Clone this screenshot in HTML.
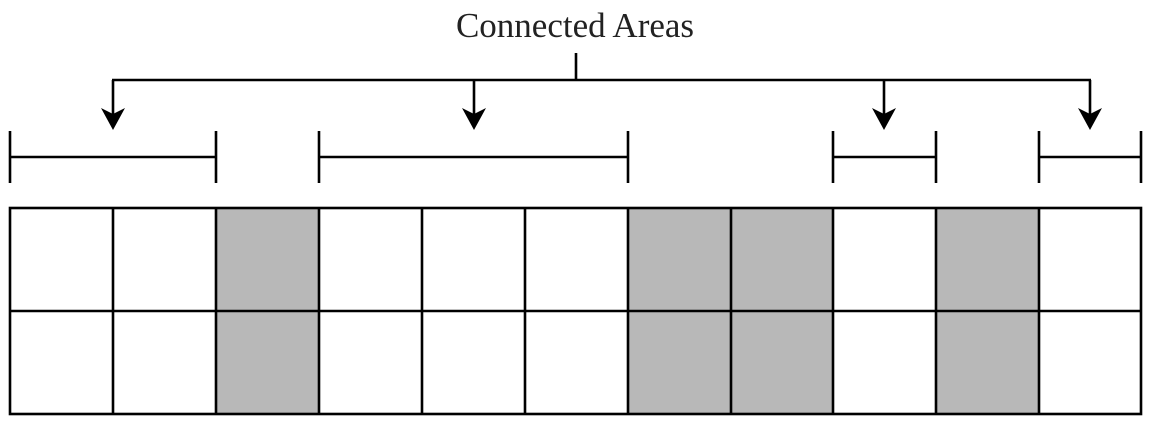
<!DOCTYPE html>
<html><head><meta charset="utf-8"><style>
html,body{margin:0;padding:0;background:#fff;width:1152px;height:426px;overflow:hidden}
</style></head><body>
<svg width="1152" height="426" xmlns="http://www.w3.org/2000/svg">
<text x="575" y="37" text-anchor="middle" font-family="Liberation Serif, serif" font-size="35" fill="#222">Connected Areas</text>
<g stroke="#000" stroke-width="2.6" fill="none">
<line x1="576" y1="53" x2="576" y2="80"/>
<line x1="112" y1="80" x2="1091" y2="80"/>
<line x1="113" y1="80" x2="113" y2="115"/>
<line x1="474" y1="80" x2="474" y2="115"/>
<line x1="884" y1="80" x2="884" y2="115"/>
<line x1="1090" y1="80" x2="1090" y2="115"/>
<line x1="10" y1="157" x2="216" y2="157"/><line x1="10" y1="131" x2="10" y2="183"/><line x1="216" y1="131" x2="216" y2="183"/>
<line x1="319" y1="157" x2="628" y2="157"/><line x1="319" y1="131" x2="319" y2="183"/><line x1="628" y1="131" x2="628" y2="183"/>
<line x1="833" y1="157" x2="936" y2="157"/><line x1="833" y1="131" x2="833" y2="183"/><line x1="936" y1="131" x2="936" y2="183"/>
<line x1="1039" y1="157" x2="1141" y2="157"/><line x1="1039" y1="131" x2="1039" y2="183"/><line x1="1141" y1="131" x2="1141" y2="183"/>
</g>
<g fill="#000">
<path d="M101 108 L113 114 L125 108 L113 130 Z"/>
<path d="M462 108 L474 114 L486 108 L474 130 Z"/>
<path d="M872 108 L884 114 L896 108 L884 130 Z"/>
<path d="M1078 108 L1090 114 L1102 108 L1090 130 Z"/>
</g>
<g fill="#b8b8b8">
<rect x="216" y="208" width="103" height="206"/>
<rect x="628" y="208" width="205" height="206"/>
<rect x="936" y="208" width="103" height="206"/>
</g>
<g stroke="#000" stroke-width="2.6" fill="none">
<rect x="10" y="208" width="1131" height="206"/>
<line x1="10" y1="311" x2="1141" y2="311"/>
<line x1="113" y1="208" x2="113" y2="414"/>
<line x1="216" y1="208" x2="216" y2="414"/>
<line x1="319" y1="208" x2="319" y2="414"/>
<line x1="422" y1="208" x2="422" y2="414"/>
<line x1="525" y1="208" x2="525" y2="414"/>
<line x1="628" y1="208" x2="628" y2="414"/>
<line x1="731" y1="208" x2="731" y2="414"/>
<line x1="833" y1="208" x2="833" y2="414"/>
<line x1="936" y1="208" x2="936" y2="414"/>
<line x1="1039" y1="208" x2="1039" y2="414"/>
</g>
</svg>
</body></html>
